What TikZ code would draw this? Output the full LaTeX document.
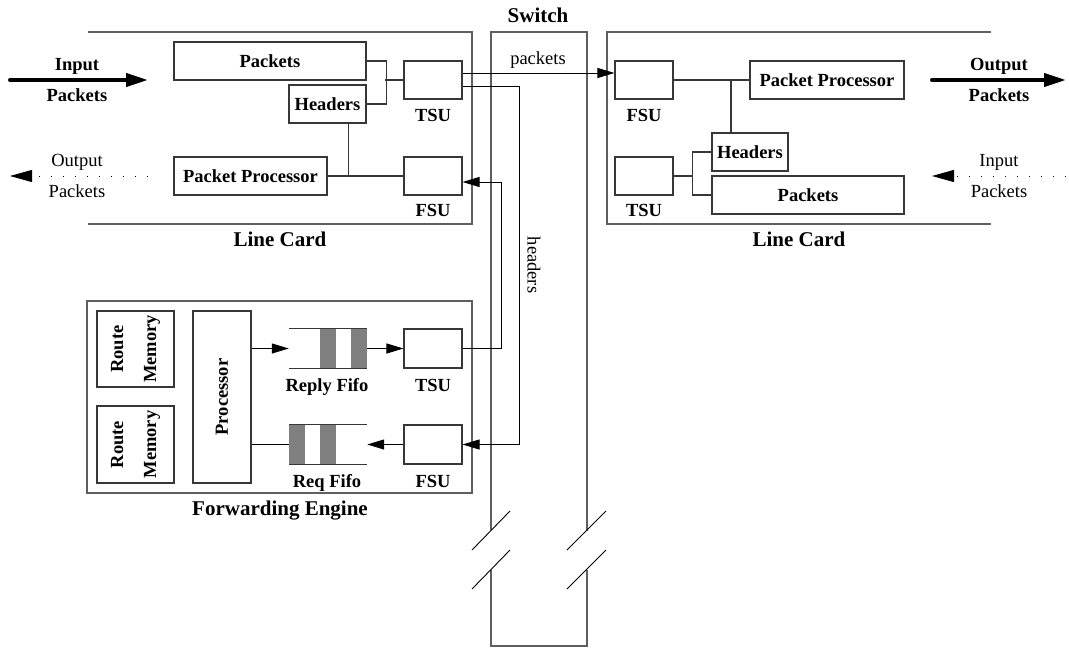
\documentclass[tikz,border=0pt]{standalone}
\usepackage{fontspec}
\setmainfont{Liberation Serif}
\usetikzlibrary{arrows.meta}
\definecolor{framegray}{RGB}{95,95,95}
\definecolor{boxgray}{RGB}{55,55,55}
\definecolor{fifogray}{RGB}{128,128,128}
\newcommand{\bxfont}{\fontsize{18.5}{33}\selectfont\bfseries}
\newcommand{\lbfont}{\fontsize{21}{24}\selectfont\bfseries}
\newcommand{\rmfont}{\fontsize{18.5}{21}\selectfont}
\begin{document}
\begin{tikzpicture}[x=1pt,y=-1pt,
  unit/.style={draw=boxgray,line width=1.1pt,inner sep=0pt,minimum width=58pt,minimum height=38pt,font=\bxfont},
  frame/.style={draw=framegray,line width=1.3pt},
  lbl/.style={anchor=base,inner sep=0pt,font=\lbfont},
  sublbl/.style={anchor=base,inner sep=0pt,font=\bxfont},
  plain/.style={anchor=base,inner sep=0pt,font=\rmfont},
  wire/.style={draw=boxgray,line width=1.1pt},
  sig/.style={draw=black,line width=1pt,-{Triangle[length=17pt,width=10pt]}},
  link/.style={draw=black,line width=1pt},
  bigarrow/.style={draw=black,line width=4pt,line cap=round,-{Triangle[length=22pt,width=13pt]}},
  dotarrow/.style={draw=black,line width=1pt,dash pattern=on 1.2pt off 10.8pt,-{Triangle[length=22pt,width=12pt]}},
  fifo/.style={inner sep=0pt,minimum width=78pt,minimum height=39pt},
  slash/.style={draw=black,line width=0.9pt}
]
\useasboundingbox (0,0) rectangle (1069,648);

% ---------- Switch ----------
\node[lbl] (swlbl) at (538,22) {Switch};
\draw[frame] (491,530) -- (491,32) -- (587,32) -- (587,531);
\draw[frame] (491,570) -- (491,646) -- (587,646) -- (587,570);
\draw[slash] (472,550) -- (510,511);
\draw[slash] (472,589) -- (510,550);
\draw[slash] (567,550) -- (606,511);
\draw[slash] (567,589) -- (606,550);
\node[plain] (pktlbl) at (538,64) {packets};
\node[font=\rmfont,rotate=-90,inner sep=0pt] (hdrlbl) at (534,265) {headers};

% ---------- Left line card ----------
\draw[frame] (88,32) -- (472,32) -- (472,224) -- (88,224);
\node[unit,minimum width=192pt] (pktL) at (270,61) {Packets};
\node[unit,minimum width=77pt] (hdrL) at (327.5,104) {Headers};
\node[unit] (tsuL) at (433,80) {};
\node[unit,minimum width=153pt] (ppL) at (250.5,176) {Packet Processor};
\node[unit] (fsuL) at (433,176) {};
\node[sublbl] (tsuLl) at (433,121) {TSU};
\node[sublbl] (fsuLl) at (433,216) {FSU};
\node[lbl] (lcL) at (280,246) {Line Card};
\draw[wire] (pktL.east) -- ++(20,0) |- (hdrL.east);
\draw[wire] (tsuL.west) -- ++(-18,0);
\draw[wire] ([xshift=-18pt]hdrL.south east) -- ([xshift=-18pt]hdrL.south east |- ppL.east);
\draw[wire] (ppL.east) -- (fsuL.west);
\coordinate (inLa) at (10,80);
\coordinate (inLb) at (148,80);
\draw[bigarrow] (inLa) -- (inLb);
\node[sublbl] (inLt) at (77,70) {Input};
\node[sublbl] (inLp) at (77,101) {Packets};
\coordinate (outLa) at (148,176);
\coordinate (outLb) at (10,176);
\draw[dotarrow] (outLa) -- (outLb);
\node[plain] (outLt) at (77,166) {Output};
\node[plain] (outLp) at (77,197) {Packets};

% ---------- Right line card ----------
\draw[frame] (991,32) -- (607,32) -- (607,224) -- (991,224);
\node[unit] (fsuR) at (644,80) {};
\node[unit,minimum width=154pt] (ppR) at (827,80) {Packet Processor};
\node[unit,minimum width=76pt] (hdrR) at (750,152) {Headers};
\node[unit] (tsuR) at (644,176) {};
\node[unit,minimum width=192pt] (pktR) at (808,195) {Packets};
\node[sublbl] (fsuRl) at (644,121) {FSU};
\node[sublbl] (tsuRl) at (644,216) {TSU};
\node[lbl] (lcR) at (799,246) {Line Card};
\draw[wire] (fsuR.east) -- (ppR.west);
\draw[wire] ([xshift=-19pt]hdrR.north) -- ([xshift=-19pt]hdrR.north |- ppR.west);
\draw[wire] (tsuR.east) -- ++(19,0) coordinate (jR);
\draw[wire] (hdrR.west) -| (jR) |- (pktR.west);
\coordinate (outRa) at (932,80);
\coordinate (outRb) at (1066,80);
\draw[bigarrow] (outRa) -- (outRb);
\node[sublbl] (outRt) at (999,70) {Output};
\node[sublbl] (outRp) at (999,101) {Packets};
\coordinate (inRa) at (1066,176);
\coordinate (inRb) at (932,176);
\draw[dotarrow] (inRa) -- (inRb);
\node[plain] (inRt) at (999,166) {Input};
\node[plain] (inRp) at (999,197) {Packets};

% ---------- Forwarding engine ----------
\draw[frame] (87,301) rectangle (472,493);
\node[lbl] (felbl) at (280,515) {Forwarding Engine};
\node[unit,minimum width=77pt,minimum height=76pt] (rm1) at (135.5,349) {};
\node[font=\bxfont,rotate=90,align=center,inner sep=0pt] (rm1t) at (rm1) {Route\\Memory};
\node[unit,minimum width=77pt,minimum height=77pt] (rm2) at (135.5,444.5) {};
\node[font=\bxfont,rotate=90,align=center,inner sep=0pt] (rm2t) at (rm2) {Route\\Memory};
\node[unit,minimum width=58pt,minimum height=172pt] (proc) at (222,397) {};
\node[font=\bxfont,rotate=90,inner sep=0pt] (proct) at (proc) {Processor};

\node[fifo] (replyF) at (328,348.5) {};
\fill[fifogray] ([xshift=-47pt]replyF.north east) rectangle ([xshift=-31pt]replyF.south east);
\fill[fifogray] ([xshift=-16pt]replyF.north east) rectangle (replyF.south east);
\draw[wire] (replyF.north west) -- (replyF.north east);
\draw[wire] (replyF.south west) -- (replyF.south east);
\node[sublbl] (replyFl) at (327,391) {Reply Fifo};

\node[fifo] (reqF) at (328,444.5) {};
\fill[fifogray] (reqF.north west) rectangle ([xshift=16pt]reqF.south west);
\fill[fifogray] ([xshift=31pt]reqF.north west) rectangle ([xshift=47pt]reqF.south west);
\draw[wire] (reqF.north west) -- (reqF.north east);
\draw[wire] (reqF.south west) -- (reqF.south east);
\node[sublbl] (reqFl) at (327,487) {Req Fifo};

\node[unit,minimum height=39pt] (tsuF) at (433,348.5) {};
\node[unit,minimum height=39pt] (fsuF) at (433,444.5) {};
\node[sublbl] (tsuFl) at (433,391) {TSU};
\node[sublbl] (fsuFl) at (433,487) {FSU};

\draw[sig] (proc.east |- replyF.west) -- (replyF.west);
\draw[sig] (replyF.east) -- (tsuF.west);
\draw[sig] (fsuF.west) -- (reqF.east);
\draw[link] (reqF.west) -- (proc.east |- reqF.west);

% ---------- Switch connections ----------
\draw[sig] ([yshift=7pt]tsuL.east) -- ([yshift=7pt]fsuR.west);
\coordinate (hdrDown) at (519,0);
\coordinate (hdrUp) at (501,0);
\coordinate (fsuLin) at ([yshift=-6pt]fsuL.east);
\draw[sig] ([yshift=-6pt]tsuL.east) -| (hdrDown |- fsuF.east) -- (fsuF.east);
\draw[sig] (tsuF.east) -| (hdrUp |- fsuLin) -- (fsuLin);
\end{tikzpicture}
\end{document}
